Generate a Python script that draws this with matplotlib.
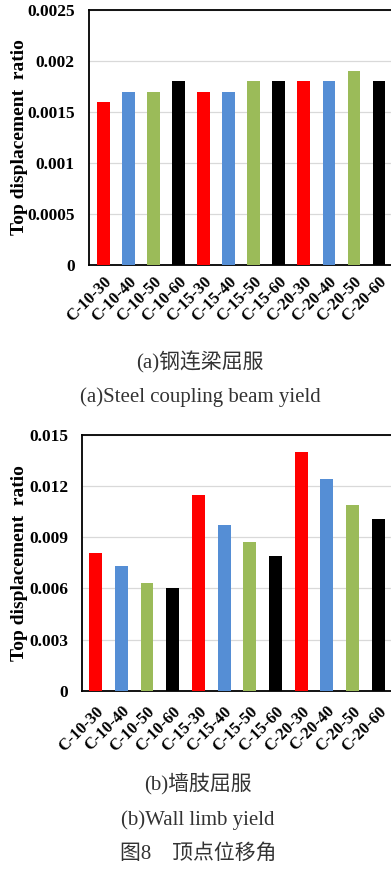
# top displacement ratio, two bar charts stacked

import matplotlib

matplotlib.use("Agg")
import matplotlib.pyplot as plt

plt.rcParams["font.family"] = ["Liberation Serif", "Noto Sans CJK SC", "DejaVu Sans"]

cases = [
    "C-10-30", "C-10-40", "C-10-50", "C-10-60",
    "C-15-30", "C-15-40", "C-15-50", "C-15-60",
    "C-20-30", "C-20-40", "C-20-50", "C-20-60",
]

# (a) steel coupling beam yield
ratio_beam = [0.0016, 0.0017, 0.0017, 0.0018, 0.0017, 0.0017,
              0.0018, 0.0018, 0.0018, 0.0018, 0.0019, 0.0018]
ticks_beam = [0, 0.0005, 0.001, 0.0015, 0.002, 0.0025]
ticklabels_beam = ["0", "0.0005", "0.001", "0.0015", "0.002", "0.0025"]

# (b) wall limb yield
ratio_wall = [0.0081, 0.0073, 0.0063, 0.0060, 0.0115, 0.0097,
              0.0087, 0.0079, 0.0140, 0.0124, 0.0109, 0.0101]
ticks_wall = [0, 0.003, 0.006, 0.009, 0.012, 0.015]
ticklabels_wall = ["0", "0.003", "0.006", "0.009", "0.012", "0.015"]

colors = ["#FF0000", "#558ED5", "#9BBB59", "#000000"] * 3

W, H = 391, 872
fig = plt.figure(figsize=(W / 100, H / 100), dpi=100)


def bar_panel(rect_px, values, ticks, ticklabels, xlim, xpad):
    left, top, right, bottom = rect_px
    ax = fig.add_axes([left / W, 1 - bottom / H, (right - left) / W, (bottom - top) / H])
    x = list(range(len(values)))
    ax.bar(x, values, width=0.5, color=colors, zorder=3)
    ax.set_xlim(*xlim)
    ax.set_ylim(ticks[0], ticks[-1])
    ax.set_yticks(ticks)
    ax.set_yticklabels(ticklabels, fontsize=12.5, fontweight="bold")
    ax.set_xticks(x)
    ax.set_xticklabels(cases, rotation=45, ha="right", va="top",
                       rotation_mode="anchor", fontsize=12, fontweight="bold")
    ax.tick_params(axis="y", length=0, pad=10)
    ax.tick_params(axis="x", length=0, pad=xpad)
    ax.grid(axis="y", color="#D9D9D9", linewidth=0.9, zorder=0)
    for sp in ax.spines.values():
        sp.set_color("black")
        sp.set_linewidth(1.3)
    ax.set_ylabel("Top displacement  ratio", fontsize=14, fontweight="bold")
    ax.yaxis.set_label_coords((28 - left) / (right - left), 0.5)
    return ax


bar_panel((88.7, 10, 394, 265), ratio_beam, ticks_beam, ticklabels_beam, (-0.58, 11.6), 6)
bar_panel((82, 435, 394, 690.7), ratio_wall, ticks_wall, ticklabels_wall, (-0.53, 11.61), 9)

cap = dict(ha="center", va="center", fontsize=15, color="#333333")
fig.text(200 / W, 1 - 362 / H, "(a)钢连梁屈服", **cap)
fig.text(200 / W, 1 - 397 / H, "(a)Steel coupling beam yield", **cap)
fig.text(198 / W, 1 - 784 / H, "(b)墙肢屈服", **cap)
fig.text(198 / W, 1 - 820 / H, "(b)Wall limb yield", **cap)
fig.text(198 / W, 1 - 854 / H, "图8\u3000顶点位移角", **cap)

fig.savefig("out.png", dpi=100)
